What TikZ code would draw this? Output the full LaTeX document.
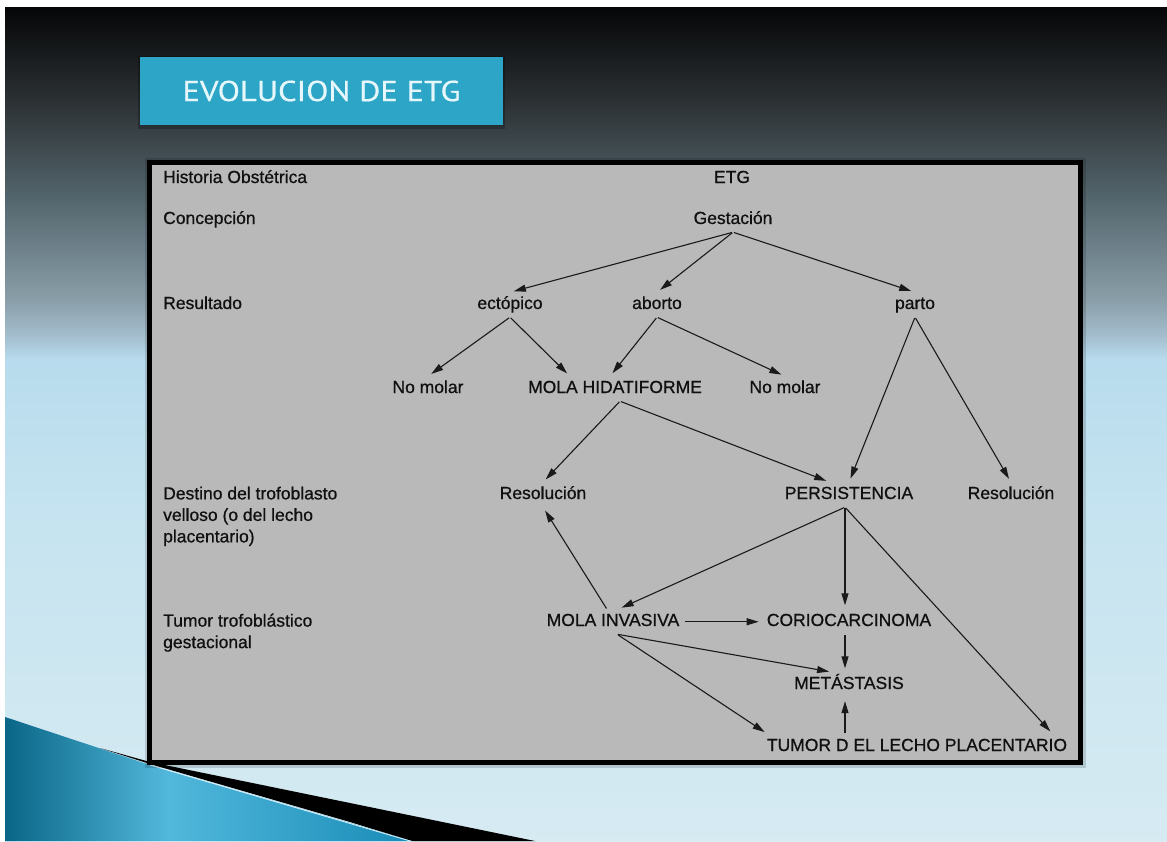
\documentclass[tikz,border=0pt]{standalone}
\usepackage{fontspec}
\setmainfont{Liberation Sans}[FakeBold=0.7]
\newfontfamily\titlefont{PT Sans}[FakeBold=0.5]
\usetikzlibrary{arrows.meta,calc}
\pgfdeclareverticalshading{slidebg}{100bp}{
 rgb(0bp)=(0.84,0.92,0.95);
 rgb(25bp)=(0.84,0.92,0.95);
 rgb(45.45bp)=(0.77,0.89,0.94);
 rgb(53.85bp)=(0.72,0.86,0.93);
 rgb(55.35bp)=(0.64,0.74,0.80);
 rgb(57.45bp)=(0.54,0.62,0.66);
 rgb(63.45bp)=(0.33,0.40,0.43);
 rgb(69.4bp)=(0.17,0.19,0.20);
 rgb(75bp)=(0.02,0.024,0.027);
 rgb(100bp)=(0.02,0.024,0.027)}
\pgfdeclarehorizontalshading{wedgeshade}{100bp}{
 rgb(0bp)=(0.04,0.40,0.53);
 rgb(25bp)=(0.04,0.40,0.53);
 rgb(45bp)=(0.32,0.72,0.86);
 rgb(75bp)=(0.10,0.55,0.72);
 rgb(100bp)=(0.10,0.55,0.72)}
\definecolor{titlefill}{HTML}{2CA5C6}
\definecolor{titletext}{HTML}{E6F7FB}
\definecolor{boxgray}{HTML}{B9B9B9}
\definecolor{txt}{HTML}{101010}
\definecolor{linecol}{HTML}{1A1A1A}
\tikzset{
  tnode/.style={anchor=base, inner sep=4pt, text height=12.5pt, text depth=4pt,
    font=\fontsize{17.5}{21}\selectfont, text=txt},
  lab/.style={anchor=base west, inner sep=0pt, font=\fontsize{17.5}{21}\selectfont, text=txt},
  mlab/.style={anchor=north west, inner sep=0pt, align=left, font=\fontsize{17.5}{21.5}\selectfont, text=txt},
  arr/.style={draw=linecol, line width=1.1pt, -{Triangle[length=12pt,width=7pt]},
    shorten >=4pt, shorten <=1pt},
  titlebox/.style={fill=titlefill, minimum width=363pt, minimum height=68pt, inner sep=0pt, text=titletext}
}
\begin{document}
\begin{tikzpicture}[x=1pt,y=-1pt]
\useasboundingbox (0,0) rectangle (1167,841);
\fill[white] (0,0) rectangle (1167,841);
\shade[shading=slidebg] (5,7) rectangle (1167,841);
% bottom-left decoration
\shade[shading=wedgeshade] (5,717) -- (150,765) -- (350,823) -- (412,841) -- (5,841) -- cycle;
\fill[black] (100,748) -- (150,762) -- (350,803) -- (535,841) -- (412,841) -- (350,822) -- (150,764) -- cycle;
\draw[white!85!cyan, line width=0.8pt] (150,765) -- (350,823.5) -- (412,841.5);
% title
\fill[black, opacity=0.25] (138,56) rectangle (505,129);
\node[titlebox] (title) at (321.5,91) {\resizebox{278pt}{20.5pt}{\titlefont EVOLUCION DE ETG}};
% main box
\fill[black, opacity=0.15] (145,158) rectangle (1086,768);
\fill[black] (147,160) rectangle (1083,765);
\fill[boxgray] (152,165) rectangle (1078,760);
% left labels
\node[lab] (hist) at (163,183) {Historia Obstétrica};
\node[lab] (conc) at (163,224) {Concepción};
\node[lab] (resu) at (163,309) {Resultado};
\node[mlab] (dest) at (163,486.5) {Destino del trofoblasto\\velloso (o del lecho\\placentario)};
\node[mlab] (tumlab) at (163,613.5) {Tumor trofoblástico\\gestacional};
% tree nodes
\node[tnode] (etg) at (732,183) {ETG};
\node[tnode] (gest) at (733,224) {Gestación};
\node[tnode] (ecto) at (510,309) {ectópico};
\node[tnode] (abor) at (657,309) {aborto};
\node[tnode] (parto) at (915,309) {parto};
\node[tnode] (nm1) at (428,393) {No molar};
\node[tnode] (mola) at (615,393) {MOLA HIDATIFORME};
\node[tnode] (nm2) at (785,393) {No molar};
\node[tnode] (res1) at (543,499) {Resolución};
\node[tnode] (pers) at (849,499) {PERSISTENCIA};
\node[tnode] (res2) at (1011,499) {Resolución};
\node[tnode] (minv) at (613,626) {MOLA INVASIVA};
\node[tnode] (corio) at (849,626) {CORIOCARCINOMA};
\node[tnode] (met) at (849,689) {METÁSTASIS};
\node[tnode] (tumor) at (917,751) {TUMOR D EL LECHO PLACENTARIO};
% connectors
\draw[arr] (gest.south) -- (ecto.north);
\draw[arr] (gest.south) -- (abor.north);
\draw[arr] (gest.south) -- (parto.north);
\draw[arr] (ecto.south) -- (nm1.north);
\draw[arr] (ecto.south) -- ([xshift=-45pt]mola.north);
\draw[arr] (abor.south) -- ([xshift=-5pt]mola.north);
\draw[arr] (abor.south) -- (nm2.north);
\draw[arr] (parto.south) -- (pers.north);
\draw[arr] (parto.south) -- (res2.north);
\draw[arr] ([xshift=5pt]mola.south) -- (res1.north);
\draw[arr] ([xshift=5pt]mola.south) -- ([xshift=-19pt]pers.north);
\draw[arr] ([xshift=-6pt]minv.north) -- (res1.south);
\draw[arr] ([xshift=-4pt]pers.south) -- ([xshift=5pt]minv.north);
\draw[arr] ([xshift=-4pt]pers.south) -- ([xshift=-4pt]corio.north);
\draw[arr] ([xshift=-4pt]pers.south) -- ([xshift=136pt]tumor.north);
\draw[arr] (minv.east) -- (corio.west);
\draw[arr] ([xshift=-4pt]corio.south) -- ([xshift=-4pt]met.north);
\draw[arr] ([xshift=4pt]minv.south) -- ([xshift=-16pt]met.north);
\draw[arr] ([xshift=4pt]minv.south) -- ([xshift=-149pt]tumor.north);
\draw[arr] ($(met.south |- tumor.north)+(-4,0)$) -- ($(met.south)+(-4,0)$);
\end{tikzpicture}
\end{document}
